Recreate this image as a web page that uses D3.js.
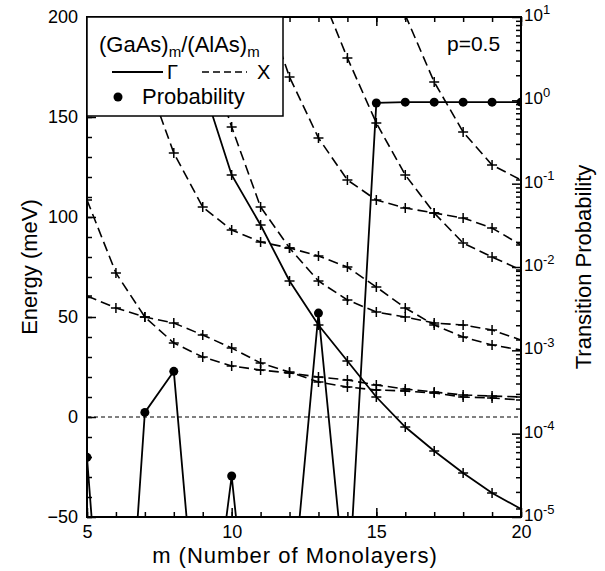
<!DOCTYPE html>
<html>
<head>
<meta charset="utf-8">
<script src="https://cdn.jsdelivr.net/npm/d3@7"></script>
<style>
  body { margin: 0; background: #fff; }
  text { font-family: "Liberation Sans", Arial, Helvetica, sans-serif; fill: #000; }
</style>
</head>
<body>
<div id="chart"></div>
<script>
// tick values
var mTicks = [5, 10, 15, 20];
var energyTicks = [-50, 0, 50, 100, 150, 200];
var probTicks = [1e-5, 1e-4, 1e-3, 1e-2, 1e-1, 1e0, 1e1];

// Gamma level, [m, energy meV]
var gammaLevel = [[9, 166], [10, 121], [11, 96], [12, 68], [13, 46], [14, 28], [15, 10],
    [16, -5], [17, -17], [18, -28], [19, -38], [20, -46]];

// X levels, [m, energy meV]
var xLevel1 = [[5, 108.5], [6, 72], [7, 50], [8, 37], [9, 30], [10, 25.5], [11, 23.5], [12, 22],
    [13, 20], [14, 18.5], [15, 16], [16, 14], [17, 12.5], [18, 11], [19, 10.5], [20, 10]];
var xLevel2 = [[5, 60.5], [6, 54.5], [7, 50], [8, 47], [9, 41], [10, 34.5], [11, 27], [12, 22.5],
    [13, 17.5], [14, 15], [15, 13.5], [16, 13], [17, 12], [18, 10], [19, 9.5], [20, 8.5]];
var xLevel3 = [[7, 172], [8, 132], [9, 105], [10, 93.5], [11, 87.5], [12, 84.5], [13, 80.5],
    [14, 75], [15, 65], [16, 54.5], [17, 46], [18, 40], [19, 36], [20, 33.5]];
var xLevel4 = [[9, 190], [10, 145], [11, 105], [12, 84.5], [13, 68], [14, 58.5], [15, 52.5],
    [16, 50], [17, 47], [18, 46], [19, 43.5], [20, 38.5]];
var xLevel5 = [[11, 212], [12, 170], [13, 139.5], [14, 118.5], [15, 108.5], [16, 104.5],
    [17, 102], [18, 99.5], [19, 94.5], [20, 86]];
var xLevel6 = [[13, 215], [14, 179.5], [15, 147], [16, 121], [17, 102], [18, 87], [19, 80], [20, 73.5]];
var xLevel7 = [[16, 201], [17, 167.5], [18, 142.5], [19, 126], [20, 118.5]];

// transition probability (right axis)
var probM = [5, 6, 7, 8, 9, 10, 11, 12, 13, 14, 15, 16, 17, 18, 19, 20];
var probValue = [5.2e-5, 1.5e-9, 1.8e-4, 5.6e-4, 6e-8, 3.1e-5, 1.6e-8, 4.8e-7, 2.8e-3, 8e-7,
    0.93, 0.95, 0.95, 0.95, 0.95, 0.95];

var margin = { top: 17, right: 84, bottom: 54, left: 87 },
    width = 605 - margin.left - margin.right,
    height = 571 - margin.top - margin.bottom;

var svg = d3.select('#chart').append('svg')
    .attr('width', 605)
    .attr('height', 571)
    .append('g')
    .attr('transform', 'translate(' + margin.left + ',' + margin.top + ')');

var x = d3.scaleLinear().domain([5, 20]).range([0, width]);
var y = d3.scaleLinear().domain([-50, 200]).range([height, 0]);
var yP = d3.scaleLog().domain([1e-5, 1e1]).range([height, 0]);

svg.append('clipPath').attr('id', 'plot')
    .append('rect').attr('width', width).attr('height', height);

var plot = svg.append('g').attr('clip-path', 'url(#plot)');

// zero energy line
plot.append('line')
    .attr('x1', 0).attr('x2', width)
    .attr('y1', y(0)).attr('y2', y(0))
    .attr('stroke', '#000')
    .attr('stroke-width', 1)
    .attr('stroke-dasharray', '4,3');

var energyLine = d3.line()
    .x(function (d) { return x(d[0]); })
    .y(function (d) { return y(d[1]); });

var xLevels = [xLevel1, xLevel2, xLevel3, xLevel4, xLevel5, xLevel6, xLevel7];

xLevels.forEach(function (lvl) {
    plot.append('path')
        .datum(lvl)
        .attr('d', energyLine)
        .attr('fill', 'none')
        .attr('stroke', '#000')
        .attr('stroke-width', 1.6)
        .attr('stroke-dasharray', '10,5');
});

plot.append('path')
    .datum(gammaLevel)
    .attr('d', energyLine)
    .attr('fill', 'none')
    .attr('stroke', '#000')
    .attr('stroke-width', 1.8);

// + markers
xLevels.concat([gammaLevel]).forEach(function (lvl) {
    plot.selectAll(null)
        .data(lvl)
        .enter().append('path')
        .attr('transform', function (d) { return 'translate(' + x(d[0]) + ',' + y(d[1]) + ')'; })
        .attr('d', 'M-5,0H5M0,-5V5')
        .attr('stroke', '#000')
        .attr('stroke-width', 1.5);
});

// probability
var prob = probM.map(function (m, i) { return [m, probValue[i]]; });

plot.append('path')
    .datum(prob)
    .attr('d', d3.line()
        .x(function (d) { return x(d[0]); })
        .y(function (d) { return yP(d[1]); }))
    .attr('fill', 'none')
    .attr('stroke', '#000')
    .attr('stroke-width', 1.8);

plot.selectAll('.dot')
    .data(prob.filter(function (d) { return d[1] >= 1e-5; }))
    .enter().append('circle')
    .attr('class', 'dot')
    .attr('r', 4.5)
    .attr('cx', function (d) { return x(d[0]); })
    .attr('cy', function (d) { return yP(d[1]); })
    .attr('fill', '#000');

// axes
function tidy(g) {
    g.select('.domain').remove();
    g.selectAll('.tick line').attr('stroke-width', 1.5);
    g.selectAll('text').style('font-size', '18px')
        .style('font-family', '"Liberation Sans", Arial, sans-serif');
}

var minorM = d3.range(5, 21);
var minorE = d3.range(-50, 201, 10);
var minorP = [];
for (var k = -5; k < 1; k++) {
    for (var j = 2; j < 10; j++) minorP.push(j * Math.pow(10, k));
}

svg.append('g').attr('transform', 'translate(0,' + height + ')')
    .call(d3.axisBottom(x).tickValues(minorM).tickSize(-5).tickFormat('')).call(tidy);
svg.append('g').attr('transform', 'translate(0,' + height + ')')
    .call(d3.axisBottom(x).tickValues(mTicks).tickSize(-9).tickPadding(8)).call(tidy);
svg.append('g')
    .call(d3.axisTop(x).tickValues(minorM).tickSize(-5).tickFormat('')).call(tidy);
svg.append('g')
    .call(d3.axisTop(x).tickValues(mTicks).tickSize(-9).tickFormat('')).call(tidy);

svg.append('g')
    .call(d3.axisLeft(y).tickValues(minorE).tickSize(-5).tickFormat('')).call(tidy);
svg.append('g')
    .call(d3.axisLeft(y).tickValues(energyTicks).tickSize(-9).tickPadding(9)).call(tidy);

svg.append('g').attr('transform', 'translate(' + width + ',0)')
    .call(d3.axisRight(yP).tickValues(minorP).tickSize(-5).tickFormat('')).call(tidy);
var rightAxis = svg.append('g').attr('transform', 'translate(' + width + ',0)')
    .call(d3.axisRight(yP).tickValues(probTicks).tickSize(-9).tickPadding(3)).call(tidy);

rightAxis.selectAll('.tick text')
    .text(null)
    .attr('dy', '0.2em')
    .style('font-size', '17px')
    .each(function (d) {
        var t = d3.select(this);
        var p = Math.round(Math.log10(d));
        t.append('tspan').text('10');
        t.append('tspan')
            .attr('dy', '-0.55em')
            .style('font-size', '13px')
            .text(p < 0 ? '-' + Math.abs(p) : p);
    });

// frame
svg.append('rect')
    .attr('width', width).attr('height', height)
    .attr('fill', 'none')
    .attr('stroke', '#000')
    .attr('stroke-width', 2);

// legend
var legend = svg.append('g');
legend.append('rect')
    .attr('width', 196).attr('height', 99)
    .attr('fill', '#fff')
    .attr('stroke', '#000')
    .attr('stroke-width', 1.5);

var title = legend.append('text')
    .attr('x', 12).attr('y', 35)
    .style('font-size', '22px');
title.append('tspan').text('(GaAs)');
title.append('tspan').attr('dy', 5).style('font-size', '15px').text('m');
title.append('tspan').attr('dy', -5).text('/(AlAs)');
title.append('tspan').attr('dy', 5).style('font-size', '15px').text('m');

legend.append('line')
    .attr('x1', 25).attr('x2', 76).attr('y1', 55).attr('y2', 55)
    .attr('stroke', '#000').attr('stroke-width', 1.8);
legend.append('text').attr('x', 80).attr('y', 62).style('font-size', '20px').text('\u0393');
legend.append('line')
    .attr('x1', 115).attr('x2', 160).attr('y1', 55).attr('y2', 55)
    .attr('stroke', '#000').attr('stroke-width', 1.6)
    .attr('stroke-dasharray', '7,4');
legend.append('text').attr('x', 170).attr('y', 62).style('font-size', '20px').text('X');

legend.append('circle').attr('cx', 31).attr('cy', 80).attr('r', 4.5).attr('fill', '#000');
legend.append('text').attr('x', 55).attr('y', 87).style('font-size', '22px').text('Probability');

svg.append('text')
    .attr('x', 360).attr('y', 34)
    .style('font-size', '21px')
    .text('p=0.5');

// axis titles
svg.append('text')
    .attr('transform', 'translate(' + (37 - margin.left) + ',' + (height / 2) + ') rotate(-90)')
    .style('text-anchor', 'middle')
    .style('font-size', '22px')
    .text('Energy (meV)');

svg.append('text')
    .attr('transform', 'translate(' + (width + 70) + ',' + (height / 2) + ') rotate(-90)')
    .style('text-anchor', 'middle')
    .style('font-size', '22px')
    .text('Transition Probability');

svg.append('text')
    .attr('x', 295 - margin.left)
    .attr('y', height + 46)
    .style('text-anchor', 'middle')
    .style('font-size', '22px')
    .style('letter-spacing', '1px')
    .text('m (Number of Monolayers)');
</script>
</body>
</html>
